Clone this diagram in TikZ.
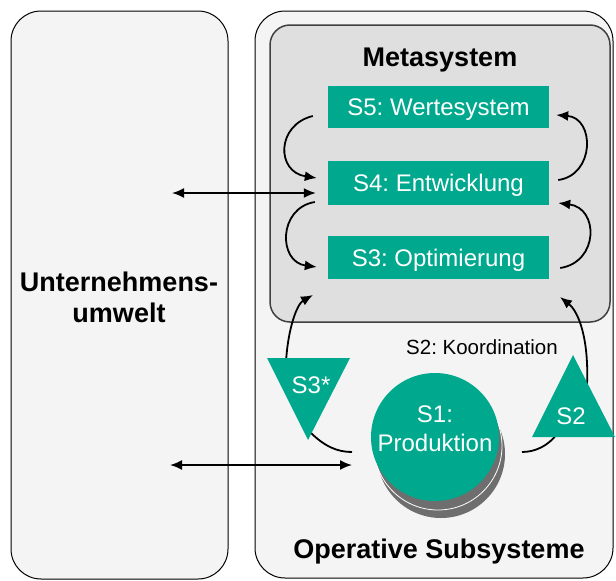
\documentclass[tikz,border=0pt]{standalone}
\usepackage{fontspec}
\setmainfont{Liberation Sans}
\usetikzlibrary{arrows.meta,calc}
\definecolor{vsmteal}{HTML}{00A88E}
\definecolor{panel}{HTML}{F4F4F4}
\definecolor{metafill}{HTML}{DFDFDF}
\definecolor{metaline}{HTML}{404040}
\definecolor{stackgray}{HTML}{6E6E6E}
\frenchspacing
\begin{document}
\begin{tikzpicture}[x=1pt,y=-1pt,
  panelbox/.style={draw=black,line width=1pt,fill=panel,rounded corners=30pt},
  metabox/.style={draw=metaline,line width=1.5pt,fill=metafill,rounded corners=20pt},
  sysbox/.style={fill=vsmteal,text=white,minimum width=221pt,inner sep=0pt,
    text height=17pt,text depth=0pt,font=\fontsize{24}{28}\selectfont},
  title/.style={font=\bfseries\fontsize{27}{31}\selectfont,align=center,inner sep=0pt},
  trilabel/.style={text=white,font=\fontsize{24}{28}\selectfont,inner sep=0pt,anchor=base},
  flow/.style={line width=1.8pt,-{Latex[length=12pt,width=10pt]}},
  both/.style={line width=1.8pt,{Latex[length=12pt,width=10pt]}-{Latex[length=12pt,width=10pt]}},
  link/.style={line width=1.8pt}]
\useasboundingbox (0,0) rectangle (616,581);
\fill[white] (0,0) rectangle (616,581);

% environment panel and system panel
\draw[panelbox] (11,11) rectangle (228,579);
\draw[panelbox] (255,11) rectangle (613,578);
\draw[metabox] (270,25) rectangle (610,322);

% titles
\node[title] (umwelt) at (119,297) {Unternehmens-\\umwelt};
\node[title,anchor=base] (meta) at (440,66) {Metasystem};
\node[title,anchor=base] (ops) at (439,558) {Operative Subsysteme};

% metasystem functions
\node[sysbox,minimum height=42pt] (s5) at (438.5,107) {S5: Wertesystem};
\node[sysbox,minimum height=44pt] (s4) at (438.5,183) {S4: Entwicklung};
\node[sysbox,minimum height=43pt] (s3) at (438.5,257.5) {S3: Optimierung};

% loops between S5, S4 and S3
\draw[flow] ($(s5.west)+(-15,9)$) .. controls (276,125) and (276,172) .. ($(s4.west)+(-11,-5)$);
\draw[flow] ($(s4.west)+(-13,19)$) .. controls (278,208) and (278,262) .. ($(s3.west)+(-11,9.5)$);
\draw[flow] ($(s4.east)+(9,-3)$) .. controls (595,175) and (595,118) .. ($(s5.east)+(7,8)$);
\draw[flow] ($(s3.east)+(11,10.5)$) .. controls (599,262) and (599,208) .. ($(s4.east)+(9,20)$);

% operative unit S1 as a stack of disks
\fill[stackgray] (441,454) circle (64);
\draw[white,line width=0.8pt,fill=stackgray] (438,446) circle (64);
\node[circle,fill=vsmteal,minimum size=128pt,inner sep=0pt] (s1) at (435,437) {};
\node[text=white,align=center,font=\fontsize{24}{29}\selectfont,inner sep=0pt]
  (s1text) at ($(s1)+(0,-8)$) {S1:\\Produktion};

% exchange with the environment
\coordinate (envtop) at (172,193);
\coordinate (envbot) at (170,465);
\draw[both] (envtop) -- ($(s4.west)+(-12,10)$);
\draw[both] (envbot) -- ($(s1)+(-83,28)$);

% channels of S3* and S2
\coordinate (s3startop) at (286,362);
\coordinate (s3starside) at (310,432);
\coordinate (metain3) at (313,295);
\coordinate (s2side) at (587,385);
\coordinate (s2base) at (557,434);
\coordinate (metain2) at (560,297);
\draw[flow] (s3startop) .. controls (288,328) and (297,304) .. (metain3);
\draw[flow] (s2side) .. controls (589,340) and (579,312) .. (metain2);
\draw[link] (s3starside) .. controls (325,447) and (338,452) .. ($(s1)+(-83,15)$);
\draw[link] ($(s1)+(87,15)$) .. controls (535,452) and (548,446) .. (s2base);

% S3* and S2 triangles
\fill[vsmteal] (267,358) -- (350,358) -- (308,440) -- cycle;
\node[trilabel] (s3star) at (311,393) {S3*};
\fill[vsmteal] (573,355) -- (615,437) -- (532,437) -- cycle;
\node[trilabel] (s2) at (571,424) {S2};
\node[font=\fontsize{20.5}{24}\selectfont,anchor=base,inner sep=0pt] (koord) at (482,354) {S2: Koordination};
\end{tikzpicture}
\end{document}
